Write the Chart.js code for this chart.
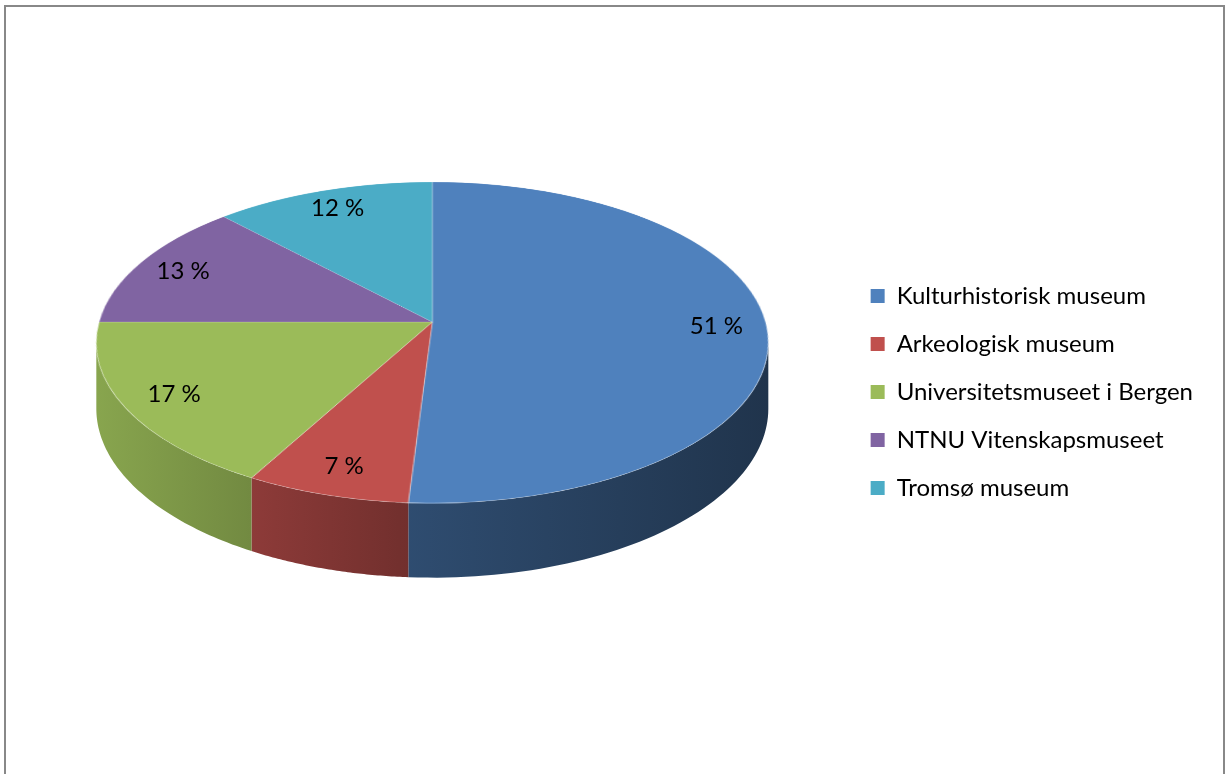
<!DOCTYPE html>
<html>
<head>
<meta charset="utf-8">
<script src="https://cdn.jsdelivr.net/npm/chart.js@4.4.1/dist/chart.umd.min.js"></script>
<style>
  html, body { margin: 0; padding: 0; background: #fff; overflow: hidden; }
  #frame { position: absolute; left: 4px; top: 5px; width: 1221px; height: 800px; border: 2px solid #888; box-sizing: border-box; }
  #wrap { position: absolute; left: 0; top: 0; width: 1227px; height: 774px; }
</style>
</head>
<body>
<div id="frame"></div>
<div id="wrap"><canvas id="museumPie"></canvas></div>
<script>
const museums = [
    'Kulturhistorisk museum',
    'Arkeologisk museum',
    'Universitetsmuseet i Bergen',
    'NTNU Vitenskapsmuseet',
    'Tromsø museum'
];
const shares = [51, 7, 17, 13, 12];
const sliceColors = ['#4F81BD', '#C0504D', '#9BBB59', '#8064A2', '#4BACC6'];

// look of the 3d pie (excel style perspective)
const persp = 0.128;      // how much nearer the front edge is
const tilt = 0.47;        // vertical squash of the top face
const wallDepth = 65;     // thickness of the pie
const lift = 70;          // pie sits higher than the legend centre
const labelRadius = 0.85;

Chart.defaults.font.family = 'Lato';
Chart.defaults.color = '#000000';

function shade(hex, f) {
    const n = parseInt(hex.slice(1), 16);
    const r = Math.round(((n >> 16) & 255) * f);
    const g = Math.round(((n >> 8) & 255) * f);
    const b = Math.round((n & 255) * f);
    return 'rgb(' + r + ',' + g + ',' + b + ')';
}

function pieFrame(chart) {
    const arcs = chart.getDatasetMeta(0).data;
    const R = arcs[0].outerRadius;
    return {
        arcs: arcs, cx: arcs[0].x, cy: arcs[0].y, R: R,
        X: arcs[0].x, Y: Math.round(arcs[0].y - lift),
        F: R * Math.sqrt(1 - persp * persp), G: R * tilt
    };
}

// flat disc point (u, v) -> screen, v > 0 is toward the viewer
function project(p, u, v) {
    const s = 1 / (1 - persp * v);
    return [p.X + p.F * u * s, p.Y + p.G * v * s, s];
}

const pie3d = {
    id: 'pie3d',
    beforeDatasetsDraw(chart) {
        const ctx = chart.ctx;
        const p = pieFrame(chart);

        // front wall, visible between the two widest points
        const aMin = Math.asin(persp), aMax = Math.PI - Math.asin(persp);
        p.arcs.forEach((arc, i) => {
            const a1 = Math.max(arc.startAngle, aMin);
            const a2 = Math.min(arc.endAngle, aMax);
            if (a2 <= a1) return;
            const grad = ctx.createLinearGradient(p.X - p.R, 0, p.X + p.R, 0);
            grad.addColorStop(0, shade(sliceColors[i], 0.88));
            grad.addColorStop(0.45, shade(sliceColors[i], 0.6));
            grad.addColorStop(1, shade(sliceColors[i], 0.4));
            const steps = 60;
            ctx.save();
            ctx.beginPath();
            for (let k = 0; k <= steps; k++) {
                const a = a1 + (a2 - a1) * k / steps;
                const q = project(p, Math.cos(a), Math.sin(a));
                ctx.lineTo(q[0], q[1]);
            }
            for (let k = steps; k >= 0; k--) {
                const a = a1 + (a2 - a1) * k / steps;
                const q = project(p, Math.cos(a), Math.sin(a));
                ctx.lineTo(q[0], q[1] + wallDepth * q[2]);
            }
            ctx.closePath();
            ctx.fillStyle = grad;
            ctx.fill();
            ctx.restore();
        });

        // top face: let chart.js draw the flat pie off screen, then lay it down row by row
        const size = Math.ceil(2 * p.R) + 2;
        const c0 = size / 2;
        const off = document.createElement('canvas');
        off.width = size;
        off.height = size;
        const octx = off.getContext('2d');
        octx.translate(c0 - p.cx, c0 - p.cy);
        p.arcs.forEach(arc => arc.draw(octx));

        ctx.save();
        ctx.imageSmoothingEnabled = true;
        ctx.imageSmoothingQuality = 'high';
        const yTop = Math.floor(p.Y - p.G / (1 + persp));
        const yBot = Math.ceil(p.Y + p.G / (1 - persp));
        const toV = y => {
            const t = (y - p.Y) / p.G;
            return Math.max(-1, Math.min(1, t / (1 + persp * t)));
        };
        for (let y = yTop; y < yBot; y++) {
            const v0 = toV(y), v1 = toV(y + 1);
            if (v1 <= v0) continue;
            const s = 1 / (1 - persp * (v0 + v1) / 2);
            const k = p.F * s / p.R;
            ctx.drawImage(off, 0, c0 + v0 * p.R, size, (v1 - v0) * p.R,
                p.X - c0 * k, y, size * k, 1);
        }
        ctx.restore();
        return false;
    },
    afterDraw(chart) {
        const ctx = chart.ctx;
        const p = pieFrame(chart);
        ctx.save();
        ctx.font = '24px Lato';
        ctx.fillStyle = '#000';
        ctx.textAlign = 'center';
        ctx.textBaseline = 'middle';
        p.arcs.forEach((arc, i) => {
            const mid = (arc.startAngle + arc.endAngle) / 2;
            const q = project(p, Math.cos(mid) * labelRadius, Math.sin(mid) * labelRadius);
            ctx.fillText(shares[i] + ' %', q[0], q[1]);
        });
        ctx.restore();
    }
};

const pieChart = new Chart(document.getElementById('museumPie'), {
    type: 'pie',
    data: {
        labels: museums,
        datasets: [{
            data: shares,
            backgroundColor: sliceColors,
            borderColor: 'rgba(255,255,255,0.35)',
            borderWidth: 1,
            radius: 336
        }]
    },
    options: {
        responsive: true,
        maintainAspectRatio: false,
        animation: false,
        layout: {
            padding: { left: 18, right: 24, top: 10, bottom: 0 }
        },
        plugins: {
            tooltip: { enabled: false },
            legend: {
                position: 'right',
                labels: {
                    boxWidth: 14,
                    boxHeight: 14,
                    padding: 24,
                    font: { size: 24 },
                    color: '#000',
                    generateLabels(chart) {
                        const items = Chart.overrides.pie.plugins.legend.labels.generateLabels(chart);
                        return items.map(item => Object.assign(item, { lineWidth: 0 }));
                    }
                }
            }
        }
    },
    plugins: [pie3d]
});
</script>
</body>
</html>
